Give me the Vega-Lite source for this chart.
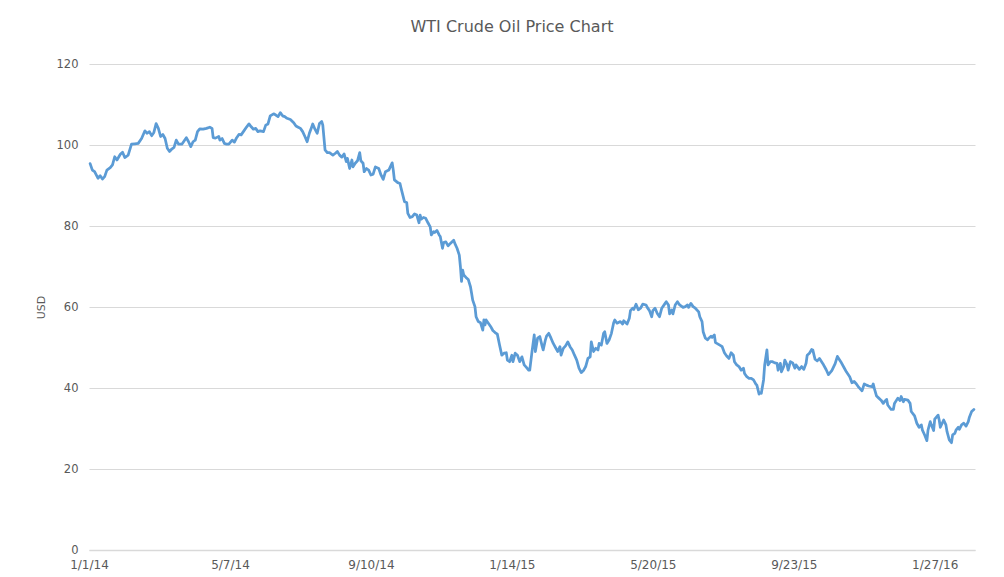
{
  "$schema": "https://vega.github.io/schema/vega-lite/v6.json",
  "width": 886,
  "height": 486,
  "autosize": {"type": "none"},
  "padding": {"left": 89, "top": 64, "right": 29, "bottom": 27},
  "background": "white",
  "title": {"text": "WTI Crude Oil Price Chart", "font": "DejaVu Sans", "fontSize": 16, "fontWeight": "normal", "color": "#595959", "dx": -20, "offset": 23, "anchor": "middle"},
  "data": {"values": [
    {"date":"2014-01-02","price":95.4},{"date":"2014-01-04","price":93.8},{"date":"2014-01-06","price":93.4},{"date":"2014-01-09","price":91.8},{"date":"2014-01-11","price":92.4},{"date":"2014-01-13","price":91.6},{"date":"2014-01-15","price":92.2},{"date":"2014-01-17","price":93.8},{"date":"2014-01-20","price":94.4},{"date":"2014-01-22","price":95.1},{"date":"2014-01-24","price":97.1},{"date":"2014-01-26","price":96.3},{"date":"2014-01-29","price":97.7},{"date":"2014-01-31","price":98.2},
    {"date":"2014-02-02","price":96.9},{"date":"2014-02-05","price":97.5},{"date":"2014-02-08","price":100.2},{"date":"2014-02-11","price":100.3},{"date":"2014-02-14","price":100.4},{"date":"2014-02-17","price":101.6},{"date":"2014-02-20","price":103.5},{"date":"2014-02-22","price":102.9},{"date":"2014-02-24","price":103.3},{"date":"2014-02-26","price":102.3},{"date":"2014-02-28","price":103.1},
    {"date":"2014-03-02","price":105.3},{"date":"2014-03-04","price":104.1},{"date":"2014-03-06","price":102.1},{"date":"2014-03-08","price":102.6},{"date":"2014-03-10","price":101.6},{"date":"2014-03-12","price":99.2},{"date":"2014-03-14","price":98.4},{"date":"2014-03-16","price":99.0},{"date":"2014-03-18","price":99.4},{"date":"2014-03-20","price":101.2},{"date":"2014-03-22","price":100.2},{"date":"2014-03-25","price":100.2},{"date":"2014-03-27","price":101.0},{"date":"2014-03-29","price":101.8},{"date":"2014-03-31","price":100.8},
    {"date":"2014-04-02","price":99.6},{"date":"2014-04-04","price":100.8},{"date":"2014-04-06","price":101.2},{"date":"2014-04-08","price":103.3},{"date":"2014-04-10","price":104.0},{"date":"2014-04-13","price":103.9},{"date":"2014-04-16","price":104.1},{"date":"2014-04-19","price":104.4},{"date":"2014-04-21","price":104.1},{"date":"2014-04-22","price":101.8},{"date":"2014-04-24","price":101.7},{"date":"2014-04-27","price":102.1},{"date":"2014-04-28","price":101.2},{"date":"2014-04-30","price":101.6},
    {"date":"2014-05-02","price":100.4},{"date":"2014-05-04","price":100.2},{"date":"2014-05-06","price":100.2},{"date":"2014-05-09","price":101.2},{"date":"2014-05-11","price":100.7},{"date":"2014-05-13","price":101.8},{"date":"2014-05-15","price":102.6},{"date":"2014-05-17","price":102.5},{"date":"2014-05-19","price":103.3},{"date":"2014-05-22","price":104.5},{"date":"2014-05-24","price":105.2},{"date":"2014-05-26","price":104.5},{"date":"2014-05-28","price":103.9},{"date":"2014-05-30","price":104.1},
    {"date":"2014-06-01","price":103.3},{"date":"2014-06-03","price":103.5},{"date":"2014-06-06","price":103.3},{"date":"2014-06-08","price":104.9},{"date":"2014-06-10","price":105.2},{"date":"2014-06-12","price":107.2},{"date":"2014-06-15","price":107.7},{"date":"2014-06-17","price":107.4},{"date":"2014-06-19","price":107.0},{"date":"2014-06-21","price":108.0},{"date":"2014-06-23","price":107.2},{"date":"2014-06-25","price":107.0},{"date":"2014-06-27","price":106.6},{"date":"2014-06-30","price":106.3},
    {"date":"2014-07-03","price":105.5},{"date":"2014-07-05","price":104.7},{"date":"2014-07-07","price":104.4},{"date":"2014-07-09","price":104.1},{"date":"2014-07-11","price":103.3},{"date":"2014-07-13","price":102.1},{"date":"2014-07-15","price":100.8},{"date":"2014-07-17","price":102.9},{"date":"2014-07-19","price":104.4},{"date":"2014-07-20","price":105.2},{"date":"2014-07-22","price":103.9},{"date":"2014-07-24","price":102.9},{"date":"2014-07-26","price":105.3},{"date":"2014-07-28","price":105.8},{"date":"2014-07-29","price":104.9},{"date":"2014-07-31","price":98.8},
    {"date":"2014-08-02","price":98.1},{"date":"2014-08-04","price":98.1},{"date":"2014-08-07","price":97.5},{"date":"2014-08-09","price":97.9},{"date":"2014-08-11","price":98.4},{"date":"2014-08-13","price":97.5},{"date":"2014-08-15","price":97.0},{"date":"2014-08-17","price":97.8},{"date":"2014-08-19","price":95.9},{"date":"2014-08-20","price":96.7},{"date":"2014-08-22","price":94.2},{"date":"2014-08-24","price":96.3},{"date":"2014-08-25","price":94.6},{"date":"2014-08-27","price":95.5},{"date":"2014-08-29","price":96.1},{"date":"2014-08-31","price":98.1},
    {"date":"2014-09-01","price":96.1},{"date":"2014-09-03","price":95.5},{"date":"2014-09-04","price":93.4},{"date":"2014-09-06","price":94.2},{"date":"2014-09-08","price":93.8},{"date":"2014-09-10","price":92.6},{"date":"2014-09-12","price":92.8},{"date":"2014-09-14","price":94.6},{"date":"2014-09-17","price":94.2},{"date":"2014-09-19","price":92.6},{"date":"2014-09-21","price":91.5},{"date":"2014-09-23","price":93.4},{"date":"2014-09-26","price":93.8},{"date":"2014-09-29","price":95.6},{"date":"2014-09-30","price":93.8},
    {"date":"2014-10-01","price":91.4},{"date":"2014-10-04","price":90.7},{"date":"2014-10-06","price":90.5},{"date":"2014-10-07","price":89.3},{"date":"2014-10-10","price":86.0},{"date":"2014-10-12","price":85.8},{"date":"2014-10-13","price":83.1},{"date":"2014-10-15","price":82.1},{"date":"2014-10-17","price":82.3},{"date":"2014-10-19","price":83.0},{"date":"2014-10-21","price":82.7},{"date":"2014-10-23","price":80.8},{"date":"2014-10-24","price":82.7},{"date":"2014-10-25","price":81.7},{"date":"2014-10-27","price":82.1},{"date":"2014-10-29","price":81.9},{"date":"2014-10-31","price":80.8},
    {"date":"2014-11-02","price":79.8},{"date":"2014-11-03","price":77.8},{"date":"2014-11-05","price":78.6},{"date":"2014-11-06","price":78.4},{"date":"2014-11-08","price":78.9},{"date":"2014-11-10","price":77.8},{"date":"2014-11-11","price":77.4},{"date":"2014-11-13","price":74.5},{"date":"2014-11-14","price":75.9},{"date":"2014-11-16","price":76.1},{"date":"2014-11-18","price":75.1},{"date":"2014-11-20","price":75.7},{"date":"2014-11-23","price":76.5},{"date":"2014-11-24","price":75.7},{"date":"2014-11-26","price":74.5},{"date":"2014-11-28","price":72.8},{"date":"2014-11-29","price":70.0},{"date":"2014-11-30","price":66.3},
    {"date":"2014-12-01","price":69.1},{"date":"2014-12-02","price":67.9},{"date":"2014-12-04","price":67.3},{"date":"2014-12-06","price":66.8},{"date":"2014-12-08","price":65.0},{"date":"2014-12-09","price":63.4},{"date":"2014-12-10","price":61.7},{"date":"2014-12-12","price":60.1},{"date":"2014-12-13","price":57.6},{"date":"2014-12-15","price":56.4},{"date":"2014-12-17","price":56.1},{"date":"2014-12-19","price":54.3},{"date":"2014-12-20","price":56.8},{"date":"2014-12-21","price":55.6},{"date":"2014-12-22","price":56.8},{"date":"2014-12-24","price":56.0},{"date":"2014-12-26","price":55.2},{"date":"2014-12-28","price":54.2},{"date":"2014-12-30","price":53.7},
    {"date":"2015-01-01","price":53.3},{"date":"2015-01-03","price":50.6},{"date":"2015-01-05","price":48.1},{"date":"2015-01-07","price":48.6},{"date":"2015-01-09","price":48.7},{"date":"2015-01-10","price":46.9},{"date":"2015-01-12","price":46.5},{"date":"2015-01-14","price":48.1},{"date":"2015-01-15","price":46.5},{"date":"2015-01-17","price":48.6},{"date":"2015-01-19","price":48.1},{"date":"2015-01-21","price":46.5},{"date":"2015-01-23","price":47.7},{"date":"2015-01-25","price":45.7},{"date":"2015-01-27","price":45.1},{"date":"2015-01-29","price":44.4},{"date":"2015-01-30","price":44.4},
    {"date":"2015-02-01","price":49.0},{"date":"2015-02-03","price":53.1},{"date":"2015-02-04","price":49.0},{"date":"2015-02-06","price":52.3},{"date":"2015-02-08","price":52.7},{"date":"2015-02-10","price":50.4},{"date":"2015-02-11","price":49.4},{"date":"2015-02-13","price":51.9},{"date":"2015-02-14","price":52.8},{"date":"2015-02-16","price":53.5},{"date":"2015-02-18","price":52.3},{"date":"2015-02-20","price":51.0},{"date":"2015-02-22","price":50.0},{"date":"2015-02-24","price":49.0},{"date":"2015-02-26","price":50.2},{"date":"2015-02-27","price":48.1},
    {"date":"2015-03-01","price":49.8},{"date":"2015-03-03","price":50.4},{"date":"2015-03-05","price":51.4},{"date":"2015-03-07","price":50.2},{"date":"2015-03-09","price":49.4},{"date":"2015-03-11","price":48.1},{"date":"2015-03-13","price":46.9},{"date":"2015-03-15","price":44.9},{"date":"2015-03-17","price":43.8},{"date":"2015-03-19","price":44.3},{"date":"2015-03-21","price":45.3},{"date":"2015-03-23","price":47.3},{"date":"2015-03-25","price":47.7},{"date":"2015-03-26","price":51.4},{"date":"2015-03-28","price":49.0},{"date":"2015-03-30","price":49.8},
    {"date":"2015-04-01","price":49.4},{"date":"2015-04-02","price":51.0},{"date":"2015-04-04","price":50.6},{"date":"2015-04-06","price":53.5},{"date":"2015-04-07","price":53.9},{"date":"2015-04-09","price":51.0},{"date":"2015-04-11","price":51.9},{"date":"2015-04-13","price":53.5},{"date":"2015-04-15","price":56.1},{"date":"2015-04-16","price":56.8},{"date":"2015-04-18","price":56.0},{"date":"2015-04-21","price":56.4},{"date":"2015-04-23","price":55.8},{"date":"2015-04-24","price":56.6},{"date":"2015-04-27","price":55.8},{"date":"2015-04-29","price":57.2},{"date":"2015-04-30","price":59.1},
    {"date":"2015-05-02","price":59.7},{"date":"2015-05-03","price":59.4},{"date":"2015-05-05","price":60.7},{"date":"2015-05-07","price":59.3},{"date":"2015-05-09","price":59.7},{"date":"2015-05-11","price":60.7},{"date":"2015-05-14","price":60.5},{"date":"2015-05-15","price":59.9},{"date":"2015-05-17","price":59.1},{"date":"2015-05-19","price":57.6},{"date":"2015-05-20","price":59.1},{"date":"2015-05-22","price":59.7},{"date":"2015-05-24","price":58.4},{"date":"2015-05-26","price":57.6},{"date":"2015-05-28","price":59.7},{"date":"2015-05-31","price":60.9},
    {"date":"2015-06-01","price":61.3},{"date":"2015-06-03","price":60.5},{"date":"2015-06-04","price":58.3},{"date":"2015-06-06","price":59.3},{"date":"2015-06-07","price":58.3},{"date":"2015-06-09","price":60.5},{"date":"2015-06-11","price":61.3},{"date":"2015-06-13","price":60.5},{"date":"2015-06-16","price":59.9},{"date":"2015-06-18","price":60.1},{"date":"2015-06-20","price":60.5},{"date":"2015-06-21","price":59.9},{"date":"2015-06-23","price":60.9},{"date":"2015-06-25","price":60.1},{"date":"2015-06-27","price":59.7},{"date":"2015-06-30","price":58.8},
    {"date":"2015-07-01","price":57.6},{"date":"2015-07-03","price":56.4},{"date":"2015-07-04","price":53.9},{"date":"2015-07-06","price":52.3},{"date":"2015-07-08","price":51.9},{"date":"2015-07-09","price":52.3},{"date":"2015-07-11","price":52.8},{"date":"2015-07-12","price":52.5},{"date":"2015-07-14","price":53.1},{"date":"2015-07-15","price":51.2},{"date":"2015-07-17","price":50.9},{"date":"2015-07-20","price":50.4},{"date":"2015-07-21","price":50.2},{"date":"2015-07-23","price":48.7},{"date":"2015-07-25","price":47.9},{"date":"2015-07-27","price":47.3},{"date":"2015-07-29","price":48.7},{"date":"2015-07-31","price":48.1},
    {"date":"2015-08-01","price":46.5},{"date":"2015-08-03","price":45.7},{"date":"2015-08-05","price":45.3},{"date":"2015-08-07","price":44.4},{"date":"2015-08-09","price":44.9},{"date":"2015-08-10","price":43.6},{"date":"2015-08-12","price":42.8},{"date":"2015-08-14","price":42.4},{"date":"2015-08-16","price":42.4},{"date":"2015-08-18","price":42.0},{"date":"2015-08-20","price":41.0},{"date":"2015-08-21","price":40.7},{"date":"2015-08-23","price":38.5},{"date":"2015-08-24","price":38.8},{"date":"2015-08-25","price":38.7},{"date":"2015-08-27","price":42.0},{"date":"2015-08-28","price":45.7},{"date":"2015-08-30","price":49.4},{"date":"2015-08-31","price":45.7},
    {"date":"2015-09-02","price":46.5},{"date":"2015-09-04","price":46.5},{"date":"2015-09-06","price":46.2},{"date":"2015-09-08","price":46.1},{"date":"2015-09-09","price":44.4},{"date":"2015-09-11","price":46.1},{"date":"2015-09-12","price":44.0},{"date":"2015-09-14","price":45.3},{"date":"2015-09-15","price":46.9},{"date":"2015-09-17","price":45.7},{"date":"2015-09-18","price":44.4},{"date":"2015-09-20","price":46.5},{"date":"2015-09-22","price":46.2},{"date":"2015-09-24","price":44.9},{"date":"2015-09-25","price":45.7},{"date":"2015-09-28","price":44.6},{"date":"2015-09-30","price":45.3},
    {"date":"2015-10-02","price":44.6},{"date":"2015-10-04","price":46.1},{"date":"2015-10-05","price":48.1},{"date":"2015-10-07","price":48.6},{"date":"2015-10-09","price":49.5},{"date":"2015-10-10","price":49.4},{"date":"2015-10-12","price":47.1},{"date":"2015-10-14","price":46.7},{"date":"2015-10-16","price":47.3},{"date":"2015-10-19","price":46.0},{"date":"2015-10-22","price":44.5},{"date":"2015-10-24","price":43.3},{"date":"2015-10-27","price":44.3},{"date":"2015-10-30","price":46.0},
    {"date":"2015-11-01","price":47.8},{"date":"2015-11-04","price":46.5},{"date":"2015-11-07","price":45.0},{"date":"2015-11-09","price":44.0},{"date":"2015-11-12","price":42.8},{"date":"2015-11-14","price":41.3},{"date":"2015-11-16","price":41.6},{"date":"2015-11-18","price":41.0},{"date":"2015-11-20","price":40.2},{"date":"2015-11-23","price":39.3},{"date":"2015-11-25","price":41.0},{"date":"2015-11-27","price":40.7},{"date":"2015-11-29","price":40.5},
    {"date":"2015-12-02","price":40.3},{"date":"2015-12-03","price":41.0},{"date":"2015-12-04","price":39.9},{"date":"2015-12-06","price":38.0},{"date":"2015-12-08","price":37.5},{"date":"2015-12-10","price":37.0},{"date":"2015-12-12","price":36.2},{"date":"2015-12-13","price":36.6},{"date":"2015-12-15","price":37.2},{"date":"2015-12-16","price":35.8},{"date":"2015-12-19","price":34.7},{"date":"2015-12-21","price":34.7},{"date":"2015-12-22","price":36.2},{"date":"2015-12-25","price":37.5},{"date":"2015-12-27","price":36.9},{"date":"2015-12-28","price":37.9},{"date":"2015-12-30","price":36.6},{"date":"2015-12-31","price":37.2},
    {"date":"2016-01-03","price":37.0},{"date":"2016-01-05","price":36.2},{"date":"2016-01-06","price":34.2},{"date":"2016-01-09","price":33.1},{"date":"2016-01-11","price":31.3},{"date":"2016-01-13","price":30.3},{"date":"2016-01-15","price":30.9},{"date":"2016-01-16","price":29.6},{"date":"2016-01-18","price":28.4},{"date":"2016-01-20","price":27.0},{"date":"2016-01-21","price":29.6},{"date":"2016-01-23","price":31.7},{"date":"2016-01-24","price":30.9},{"date":"2016-01-26","price":29.5},{"date":"2016-01-27","price":32.3},{"date":"2016-01-30","price":33.3},{"date":"2016-01-31","price":32.1},
    {"date":"2016-02-01","price":30.3},{"date":"2016-02-04","price":32.1},{"date":"2016-02-06","price":30.9},{"date":"2016-02-07","price":29.2},{"date":"2016-02-09","price":27.2},{"date":"2016-02-11","price":26.5},{"date":"2016-02-12","price":28.4},{"date":"2016-02-14","price":28.8},{"date":"2016-02-15","price":29.6},{"date":"2016-02-17","price":30.3},{"date":"2016-02-18","price":29.8},{"date":"2016-02-20","price":30.9},{"date":"2016-02-22","price":31.3},{"date":"2016-02-24","price":30.6},{"date":"2016-02-26","price":31.7},{"date":"2016-02-27","price":32.8},{"date":"2016-02-29","price":34.2},
    {"date":"2016-03-02","price":34.7}
  ]},
  "mark": {"type": "line", "color": "#5b9bd5", "strokeWidth": 2.75, "strokeJoin": "round", "strokeCap": "round"},
  "encoding": {
    "x": {
      "field": "date", "type": "temporal",
      "scale": {"type": "utc", "domain": [{"year": 2014, "month": 1, "date": 1, "utc": true}, {"year": 2016, "month": 3, "date": 3, "utc": true}]},
      "axis": {
        "values": [
          {"year": 2014, "month": 1, "date": 1, "utc": true},
          {"year": 2014, "month": 5, "date": 7, "utc": true},
          {"year": 2014, "month": 9, "date": 10, "utc": true},
          {"year": 2015, "month": 1, "date": 14, "utc": true},
          {"year": 2015, "month": 5, "date": 20, "utc": true},
          {"year": 2015, "month": 9, "date": 23, "utc": true},
          {"year": 2016, "month": 1, "date": 27, "utc": true}
        ],
        "labelExpr": "utcFormat(datum.value, '%-m/%-d/%y')",
        "title": null, "grid": false, "ticks": false,
        "domainColor": "#d9d9d9", "domainWidth": 1.5,
        "labelFont": "DejaVu Sans", "labelFontSize": 12, "labelColor": "#595959",
        "labelPadding": 9, "labelFlush": false, "labelOverlap": false
      }
    },
    "y": {
      "field": "price", "type": "quantitative",
      "scale": {"domain": [0, 120], "nice": false},
      "axis": {
        "values": [0, 20, 40, 60, 80, 100, 120],
        "title": "USD", "titleFont": "DejaVu Sans", "titleFontSize": 11, "titleFontWeight": "normal", "titleColor": "#595959", "titlePadding": 10,
        "grid": true, "gridColor": "#d9d9d9", "gridWidth": 1,
        "domain": false, "ticks": false,
        "labelFont": "DejaVu Sans", "labelFontSize": 11.5, "labelColor": "#595959", "labelPadding": 11
      }
    }
  },
  "config": {"view": {"stroke": null}}
}
